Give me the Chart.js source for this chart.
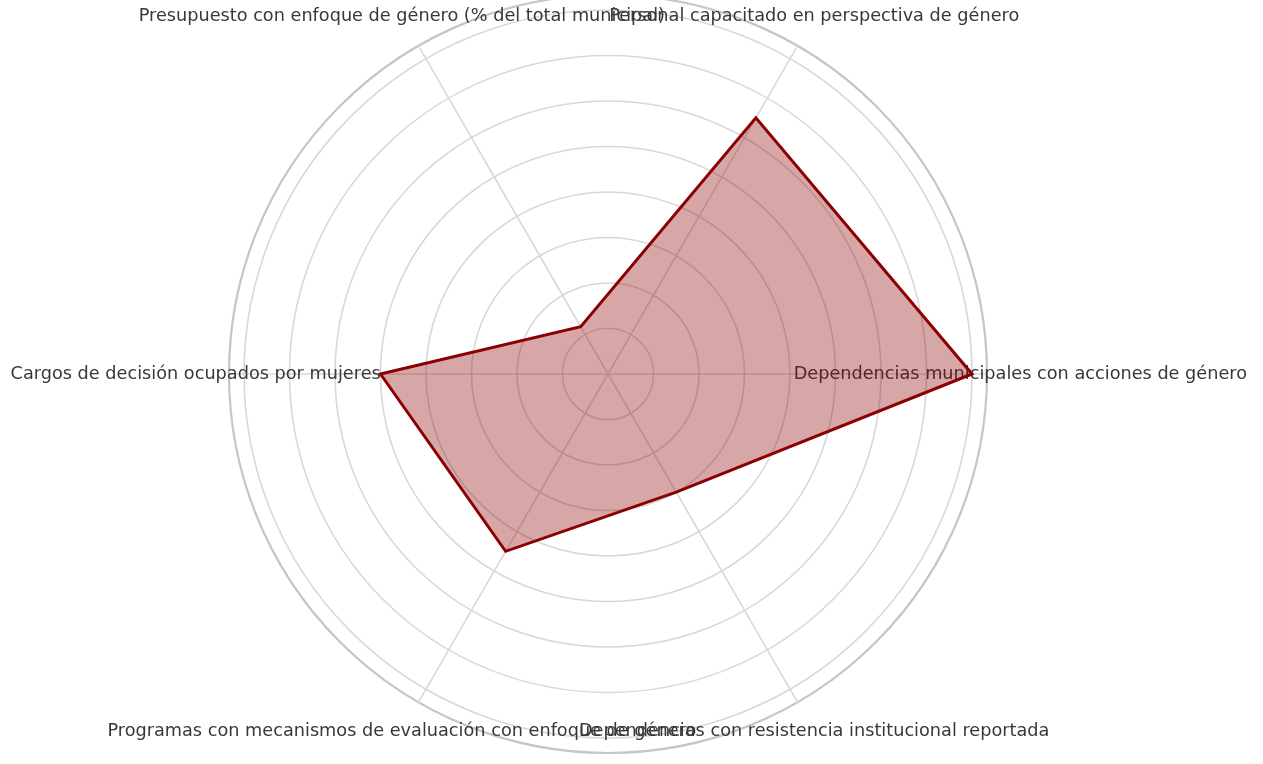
<!DOCTYPE html>
<html>
<head>
<meta charset="utf-8">
<script src="https://cdn.jsdelivr.net/npm/chart.js@4/dist/chart.umd.min.js"></script>
<style>
  html, body { margin: 0; padding: 0; background: #ffffff; overflow: hidden; width: 1263px; height: 764px; }
  #wrap { position: absolute; left: 0; top: -5px; width: 1263px; height: 769px; }
</style>
</head>
<body>
<div id="wrap"><canvas id="radar" width="1263" height="769"></canvas></div>
<script>
// Indicators, listed clockwise starting from the right-hand axis
const categories = [
  "Dependencias municipales con acciones de género",
  "Dependencias con resistencia institucional reportada",
  "Programas con mecanismos de evaluación con enfoque de género",
  "Cargos de decisión ocupados por mujeres",
  "Presupuesto con enfoque de género (% del total municipal)",
  "Personal capacitado en perspectiva de género"
];
const values = [80, 30, 45, 50, 12, 65];

// Concentric rings and the outer edge of the radial axis
const ringValues = [10, 20, 30, 40, 50, 60, 70, 80];
const radialMax = 83.3;

// Category names centred just outside the outer ring, under the data line
const axisLabels = {
  id: 'axisLabels',
  beforeDatasetsDraw(chart) {
    const r = chart.scales.r;
    const ctx = chart.ctx;
    ctx.save();
    ctx.font = '17.7px "DejaVu Sans"';
    ctx.fillStyle = '#383838';
    ctx.textAlign = 'center';
    ctx.textBaseline = 'middle';
    categories.forEach((name, i) => {
      const p = r.getPointPosition(i, r.drawingArea * 1.088);
      ctx.fillText(name, p.x, p.y);
    });
    ctx.restore();
  }
};

new Chart(document.getElementById('radar'), {
  type: 'radar',
  data: {
    labels: categories,
    datasets: [{
      data: values,
      borderColor: '#8b0000',
      backgroundColor: 'rgba(139, 0, 0, 0.35)',
      borderWidth: 3,
      pointRadius: 0,
      pointHoverRadius: 0,
      fill: true,
      tension: 0
    }]
  },
  options: {
    responsive: false,
    animation: false,
    devicePixelRatio: 1,
    layout: { padding: { left: 229, right: 276, top: 0, bottom: 11 } },
    plugins: { legend: { display: false }, tooltip: { enabled: false } },
    scales: {
      r: {
        min: 0,
        max: radialMax,
        startAngle: 90,
        afterBuildTicks(scale) {
          scale.ticks = [0, ...ringValues, radialMax].map(v => ({ value: v }));
        },
        ticks: { display: false },
        pointLabels: { display: false },
        grid: {
          circular: true,
          color: c => (c.tick && c.tick.value === radialMax) ? '#c6c6c6' : '#d8d8d8',
          lineWidth: c => (c.tick && c.tick.value === radialMax) ? 2.2 : 1.6
        },
        angleLines: { color: '#d8d8d8', lineWidth: 1.6 }
      }
    }
  },
  plugins: [axisLabels]
});
</script>
</body>
</html>
